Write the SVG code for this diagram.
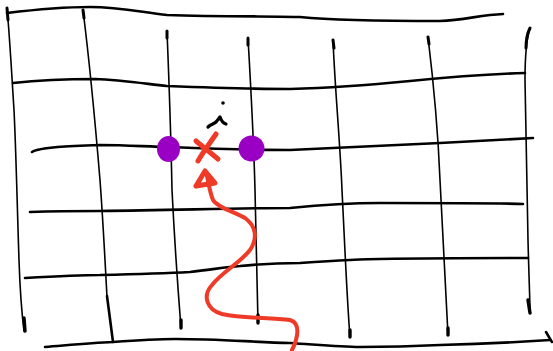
<svg xmlns="http://www.w3.org/2000/svg" width="553" height="351" viewBox="0 0 553 351">
<style>
.h{fill:none;stroke:#000;stroke-width:2.6;stroke-linecap:round;stroke-linejoin:round}
.v{fill:none;stroke:#000;stroke-width:1.6;stroke-linecap:round;stroke-linejoin:round}
.r{fill:none;stroke:#EE3A26;stroke-width:4;stroke-linecap:round;stroke-linejoin:round}
.rx{fill:none;stroke:#EE3A26;stroke-width:5;stroke-linecap:round;stroke-linejoin:round}
.dot{fill:#9A00C4}
</style>
<rect width="553" height="351" fill="#fff"/>
<g id="grid">
<path class="h" d="M7,13 C40,9 70,7 90,7 C120,7 140,12 167,15 C220,17 280,16 300,17 C330,20 380,21 440,21 C465,20 480,15 503,14"/>
<path class="h" d="M13,83 C40,80 70,79 95,79 C120,80 140,83 167,86 C220,88 260,89 290,89 C330,88 370,85 410,81 C450,77 490,74 525,73"/>
<path class="h" d="M32,152 C40,147 70,146 100,145 C130,145 150,147 170,147 C220,149 260,150 290,150 C330,148 380,146 440,143 C480,141 510,139 533,138"/>
<path class="h" d="M30,212 C60,211 80,211 100,211 C180,210 240,208 290,208 C320,205 350,203 380,203 C440,203 500,203 523,204"/>
<path class="h" d="M25,278 C60,276 80,275 100,275 C140,274 170,273 190,272 C210,270 225,267 240,266 C260,264 280,263 300,263 C330,261 360,259 380,259 C440,258 500,258 528,258"/>
<path class="h" d="M45,347 C70,345 90,343 113,342 C140,340 160,339 175,339 C220,339 250,342 290,343 C320,345 340,347 360,347 C400,347 420,346 440,345 C480,344 520,342 550,340"/>
<path class="h" d="M546,332 L552,342"/>
<path class="v" d="M7,8 C10,40 12,80 14,110 C16,150 17,200 19,260 C20,290 22,315 24,331"/>
<path class="v" d="M83,10 C88,50 95,120 100,180 C103,220 105,260 107,297"/>
<path class="h" d="M107,296 L113,342"/>
<path class="v" d="M167,31 C169,80 171,140 172,190 C175,250 178,290 181,328"/>
<path class="v" d="M248,38 C251,90 254,150 255,190 C256,240 257,290 258,323"/>
<path class="v" d="M333,40 C335,90 340,140 342,190 C345,250 347,300 350,337"/>
<path class="v" d="M428,37 C432,70 438,130 440,180 C443,240 446,300 448,335"/>
<path class="v" d="M530,28 C526,40 525,60 525,80 C526,140 527,200 528,240 C529,280 530,300 530,313"/>
<path d="M24,318 L25,331 M528,300 L530,313 M258,315 L258,323 M350,330 L350,337 M448,328 L448,335 M181,320 L181,328" stroke="#000" stroke-width="3.4" stroke-linecap="round" fill="none"/>
<path d="M7,8 L8,20 M83,10 L84,18 M167,31 L167,38 M248,38 L248,45 M333,40 L334,48 M428,37 L429,44 M530,28 C527,34 526,40 526,48" stroke="#000" stroke-width="3" stroke-linecap="round" fill="none"/>
</g>
<g id="marks">
<circle cx="223" cy="103" r="1.8" fill="#000"/>
<path d="M208,127 C211,124 214,124 216,122 C218,120 219,118 220,117 C221,120 223,123 226,124" fill="none" stroke="#000" stroke-width="3.2" stroke-linecap="round" stroke-linejoin="round"/>
<ellipse id="dotLeft" class="dot" cx="168.5" cy="149" rx="11.5" ry="13"/>
<ellipse id="dotRight" class="dot" cx="251.5" cy="148.5" rx="13" ry="13"/>
<g id="cross">
<path class="rx" d="M216,134 C210,143 203,152 198,161"/>
<path class="rx" d="M196,141 C203,147 211,153 218,159"/>
</g>
</g>
<g id="connectors">
<path class="rx" d="M196,186 L205,171 L215,183 C209,184 202,185 196,186"/>
<path class="r" d="M207,176 C209,185 210,193 213,200 C218,208 235,212 245,218 C256,226 258,238 250,250 C240,263 222,272 212,285 C202,296 207,310 222,314 C245,319 270,317 290,320 C301,323 298,338 292,350"/>
</g>
</svg>
